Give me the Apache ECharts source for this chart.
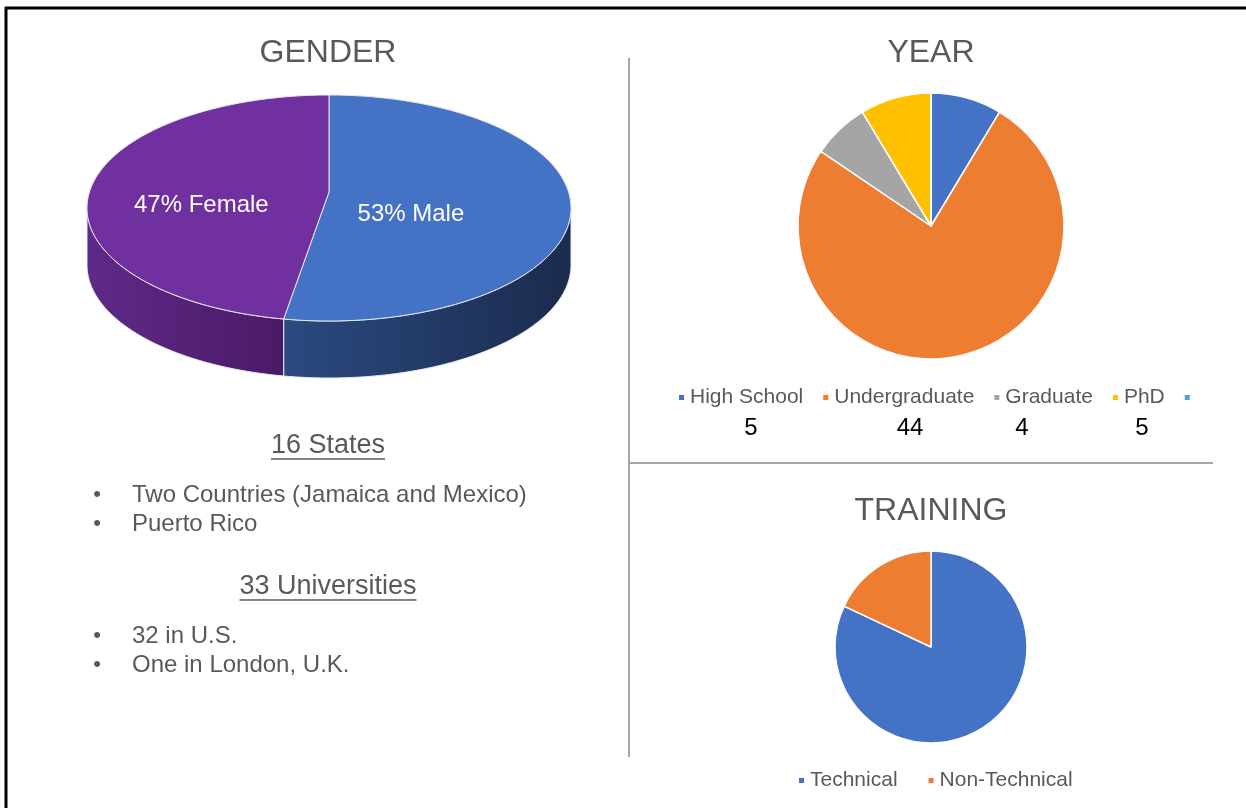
<!DOCTYPE html>
<html>
<head>
<meta charset="utf-8">
<title>Participants</title>
<script src="https://cdn.jsdelivr.net/npm/echarts@6/dist/echarts.min.js"></script>
<style>
  html, body { margin: 0; padding: 0; background: #fff; }
  #chart { width: 1246px; height: 808px; }
</style>
</head>
<body>
<div id="chart"></div>
<script>
const genderNames = ['Male', 'Female'];
const genderValues = [53, 47];
const genderColors = ['#4472c4', '#7030a0'];
const genderSideColors = [['#2b4a80', '#1b2b4d'], ['#5f2a88', '#4a1a66']];
const genderLabelRadius = [0.34, 0.53];

const yearNames = ['High School', 'Undergraduate', 'Graduate', 'PhD', ' '];
const yearValues = [5, 44, 4, 5, 0];
const yearColors = ['#4472c4', '#ed7d31', '#a5a5a5', '#ffc000', '#5b9bd5'];
const yearCountX = [751, 910, 1022, 1142];

const trainingNames = ['Technical', 'Non-Technical'];
const trainingValues = [82, 18];
const trainingColors = ['#4472c4', '#ed7d31'];

const statesHeading = '16 States';
const statesBullets = ['Two Countries (Jamaica and Mexico)', 'Puerto Rico'];
const uniHeading = '33 Universities';
const uniBullets = ['32 in U.S.', 'One in London, U.K.'];

const FONT = '"Liberation Sans", Arial, sans-serif';
const GREY = '#595959';

// 3D gender pie geometry (apex sits a bit above the ellipse centre, like the perspective view)
const pie3d = { cx: 329, cy: 208, rx: 242, ry: 113, depth: 57, apexDy: -16 };
const genderTotal = genderValues.reduce((a, b) => a + b, 0);

function ellipsePoint(t, dy, k) {
  k = k == null ? 1 : k;
  return [pie3d.cx + pie3d.rx * k * Math.sin(t), pie3d.cy - pie3d.ry * k * Math.cos(t) + (dy || 0)];
}
function arcPoints(a1, a2, dy) {
  const pts = [];
  const n = Math.max(2, Math.ceil((a2 - a1) / 0.02));
  for (let k = 0; k <= n; k++) pts.push(ellipsePoint(a1 + (a2 - a1) * k / n, dy));
  return pts;
}

function renderGender(params, api) {
  const i = params.dataIndex;
  let before = 0;
  for (let k = 0; k < i; k++) before += genderValues[k];
  const a1 = before / genderTotal * Math.PI * 2;
  const a2 = (before + api.value(0)) / genderTotal * Math.PI * 2;
  const children = [];
  // visible side wall (front half only)
  const s = Math.max(a1, Math.PI / 2), e = Math.min(a2, Math.PI * 1.5);
  if (e > s) {
    const top = arcPoints(s, e, 0);
    const bottom = arcPoints(s, e, pie3d.depth).reverse();
    children.push({
      type: 'polygon',
      shape: { points: top.concat(bottom) },
      style: {
        fill: new echarts.graphic.LinearGradient(0, 0, 1, 0, [
          { offset: 0, color: genderSideColors[i][0] },
          { offset: 1, color: genderSideColors[i][1] }
        ]),
        stroke: '#e8e8f0', lineWidth: 1
      }
    });
  }
  children.push({
    type: 'polygon',
    shape: { points: [[pie3d.cx, pie3d.cy + pie3d.apexDy]].concat(arcPoints(a1, a2, 0)) },
    style: { fill: genderColors[i], stroke: '#e8e8f0', lineWidth: 1 }
  });
  const lp = ellipsePoint((a1 + a2) / 2, 0, genderLabelRadius[i]);
  const pct = Math.round(api.value(0) / genderTotal * 100);
  children.push({
    type: 'text', x: lp[0], y: lp[1] + 3,
    style: { text: pct + '% ' + genderNames[i], fill: '#fff', fontSize: 24, fontFamily: FONT, align: 'center', verticalAlign: 'middle' }
  });
  return { type: 'group', children: children };
}

const ctx = document.createElement('canvas').getContext('2d');
function textWidth(text, size) {
  ctx.font = size + 'px ' + FONT;
  return ctx.measureText(text).width;
}

const graphics = [];
// frame and dividers
graphics.push({ type: 'line', shape: { x1: 5, y1: 8, x2: 1246, y2: 8 }, style: { stroke: '#000', lineWidth: 3 } });
graphics.push({ type: 'line', shape: { x1: 6, y1: 7, x2: 6, y2: 808 }, style: { stroke: '#000', lineWidth: 3 } });
graphics.push({ type: 'line', shape: { x1: 629, y1: 58, x2: 629, y2: 757 }, style: { stroke: '#a6a6a6', lineWidth: 2 } });
graphics.push({ type: 'line', shape: { x1: 629, y1: 463, x2: 1213, y2: 463 }, style: { stroke: '#a6a6a6', lineWidth: 2 } });

// titles
[['GENDER', 328, 53], ['YEAR', 931, 53], ['TRAINING', 931, 511]].forEach(function (t) {
  graphics.push({ type: 'text', x: t[1], y: t[2], style: { text: t[0], fontSize: 32, fontFamily: FONT, fill: GREY, align: 'center', verticalAlign: 'middle' } });
});

// left panel notes
function heading(text, y) {
  const w = textWidth(text, 27);
  graphics.push({ type: 'text', x: 328, y: y, style: { text: text, fontSize: 27, fontFamily: FONT, fill: GREY, align: 'center', verticalAlign: 'middle' } });
  graphics.push({ type: 'line', shape: { x1: 328 - w / 2, y1: y + 13, x2: 328 + w / 2, y2: y + 13 }, style: { stroke: GREY, lineWidth: 1.5 } });
}
function bullets(list, y0) {
  list.forEach(function (txt, j) {
    const y = y0 + j * 29;
    graphics.push({ type: 'text', x: 97, y: y, style: { text: '•', fontSize: 22, fontFamily: FONT, fill: GREY, align: 'center', verticalAlign: 'middle' } });
    graphics.push({ type: 'text', x: 132, y: y, style: { text: txt, fontSize: 24, fontFamily: FONT, fill: GREY, align: 'left', verticalAlign: 'middle' } });
  });
}
heading(statesHeading, 446);
bullets(statesBullets, 495);
heading(uniHeading, 587);
bullets(uniBullets, 636);

// counts under the year legend
yearCountX.forEach(function (x, j) {
  graphics.push({ type: 'text', x: x, y: 428, style: { text: String(yearValues[j]), fontSize: 24, fontFamily: FONT, fill: '#000', align: 'center', verticalAlign: 'middle' } });
});

const chart = echarts.init(document.getElementById('chart'));
const legendBase = {
  icon: 'rect', itemWidth: 7, itemHeight: 7, padding: 0, selectedMode: false,
  textStyle: { fontSize: 21, color: GREY, fontFamily: FONT }
};
chart.setOption({
  animation: false,
  backgroundColor: '#fff',
  legend: [
    Object.assign({}, legendBase, { data: yearNames, left: 677, top: 387, itemGap: 18 }),
    Object.assign({}, legendBase, { data: trainingNames, left: 797, top: 770, itemGap: 29 })
  ],
  series: [
    {
      type: 'custom',
      name: 'GENDER',
      coordinateSystem: 'none',
      silent: true,
      renderItem: renderGender,
      data: genderValues
    },
    {
      type: 'pie',
      name: 'YEAR',
      center: [931, 226],
      radius: 133,
      startAngle: 90,
      clockwise: true,
      silent: true,
      label: { show: false },
      labelLine: { show: false },
      itemStyle: { borderColor: '#fff', borderWidth: 1.5 },
      data: yearNames.map(function (n, j) {
        return { name: n, value: yearValues[j], itemStyle: { color: yearColors[j] } };
      })
    },
    {
      type: 'pie',
      name: 'TRAINING',
      center: [931, 647],
      radius: 96,
      startAngle: 90,
      clockwise: true,
      silent: true,
      label: { show: false },
      labelLine: { show: false },
      itemStyle: { borderColor: '#fff', borderWidth: 1.5 },
      data: trainingNames.map(function (n, j) {
        return { name: n, value: trainingValues[j], itemStyle: { color: trainingColors[j] } };
      })
    }
  ],
  graphic: graphics
});
</script>
</body>
</html>
